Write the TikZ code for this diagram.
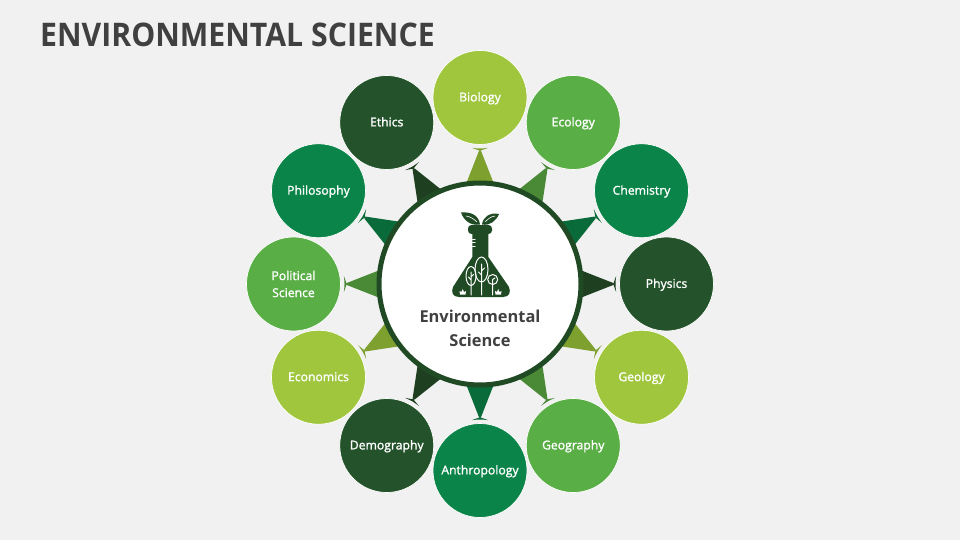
\documentclass[tikz,border=0pt]{standalone}
\usepackage{fontspec}
\setmainfont{Open Sans}
\usetikzlibrary{calc}
\pgfdeclarelayer{back}
\pgfdeclarelayer{wedge}
\pgfsetlayers{back,wedge,main}
\definecolor{bg}{HTML}{F1F1F1}
\definecolor{ink}{HTML}{404040}
\definecolor{ringc}{HTML}{1F4A24}
\definecolor{lime}{HTML}{A0C63E}
\definecolor{leaf}{HTML}{5AAE46}
\definecolor{emer}{HTML}{0B8449}
\definecolor{forest}{HTML}{24532B}
\definecolor{limeD}{HTML}{7EA02F}
\definecolor{leafD}{HTML}{4A8A37}
\definecolor{emerD}{HTML}{0A6B3A}
\definecolor{forestD}{HTML}{1F4020}
\tikzset{
  sat/.style={circle,minimum size=94pt,inner sep=0pt,outer sep=0pt,draw=white,line width=.7pt,text=white,align=center,font=\fontsize{12.2}{17}\selectfont\addfontfeature{FakeBold=1.4}},
  satone/.style={sat,text height=9.3pt,text depth=1.5pt},
  hubc/.style={circle,minimum size=202pt,inner sep=0pt,fill=white,draw=ringc,line width=5pt},
  titletext/.style={text=ink,font=\fontsize{32.5}{36}\selectfont\bfseries\addfontfeature{FakeStretch=0.93},anchor=west,inner sep=0pt},
  hubtext/.style={text=ink,font=\fontsize{16.4}{24}\selectfont\bfseries,align=center,inner sep=0pt},
  flaskline/.style={draw=white,line width=1pt,line cap=round},
  flask/.style={fill=ringc}
}
\begin{document}
\begin{tikzpicture}[x=1pt,y=-1pt]
\useasboundingbox (0,0) rectangle (960,540);
\begin{pgfonlayer}{back}
\fill[bg] (0,0) rectangle (960,540);
\end{pgfonlayer}
\node[titletext] (title) at (40,34.5) {ENVIRONMENTAL SCIENCE};
\coordinate (hubpt) at (480,284);
\foreach \i/\a/\t/\f in {
 1/-90/Biology/lime,
 2/-60/Ecology/leaf,
 3/-30/Chemistry/emer,
 4/0/Physics/forest,
 5/30/Geology/lime,
 6/60/Geography/leaf,
 7/90/Anthropology/emer,
 8/120/Demography/forest,
 9/150/Economics/lime,
 11/-150/Philosophy/emer,
 12/-120/Ethics/forest}{
  \node[satone,fill=\f] (s\i) at ($(hubpt)+(\a:186.5)$) {\t};
}
\node[sat,fill=leaf] (s10) at ($(hubpt)+(180:186.5)$) {Political\\Science};
\node[hubc] (hub) at (hubpt) {};
\begin{pgfonlayer}{wedge}
\foreach \i/\d in {1/limeD,2/leafD,3/emerD,4/forestD,5/limeD,6/leafD,7/emerD,8/forestD,9/limeD,10/leafD,11/emerD,12/forestD}{
  \fill[\d]
    ($(hub.center)!.533!8.5:(s\i.center)$) --
    ($(hub.center)!.712!0.5:(s\i.center)$) --
    ($(s\i.center)!.2735!9:(hub.center)$) .. controls ($(s\i.center)!.2735!5:(hub.center)$) and ($(s\i.center)!.2735!2:(hub.center)$) .. ($(s\i.center)!.2735!0:(hub.center)$)
    .. controls ($(s\i.center)!.2735!-2:(hub.center)$) and ($(s\i.center)!.2735!-5:(hub.center)$) .. ($(s\i.center)!.2735!-9:(hub.center)$) --
    ($(hub.center)!.712!-0.5:(s\i.center)$) --
    ($(hub.center)!.533!-8.5:(s\i.center)$) -- cycle;
}
\end{pgfonlayer}
\node[hubtext] (hublabel) at (480,328.3) {Environmental\\Science};
% flask
\fill[flask] (472.3,234) -- (472.3,257) -- (453,287) .. controls (451,292) and (452.5,297) .. (459,297) -- (503,297) .. controls (509.5,297) and (511,292) .. (509,287) -- (488.3,257) -- (488.3,234) -- cycle;
\fill[flask,rounded corners=3.5pt] (468,225) rectangle (492,234);
\fill[flask] (480,224.5) .. controls (479,216) and (472,211.5) .. (461,212.5) .. controls (464,221) and (471,226) .. (480,224.5) -- cycle;
\fill[flask] (482,224.5) .. controls (483,217) and (490,212) .. (499,214) .. controls (496,221) and (490,226) .. (482,224.5) -- cycle;
\draw[draw=white,line width=.6pt] (466,216) .. controls (470,216.5) and (474,219) .. (477,222);
\draw[draw=white,line width=.6pt] (495,216) .. controls (491,216.5) and (488,219) .. (485,222);
\draw[flaskline] (472.5,239) -- (475,239) (472.5,242.5) -- (475,242.5) (472.5,246) -- (475,246);
\draw[flaskline] (471,276) ellipse [x radius=5,y radius=9.5];
\draw[flaskline] (481.5,269.5) ellipse [x radius=6.5,y radius=12.5];
\draw[flaskline] (492.7,279.5) circle [radius=5];
\draw[flaskline] (471,272) -- (471,295) (471,280) -- (468.5,277) (471,277) -- (473.5,274.5);
\draw[flaskline] (481.5,264) -- (481.5,295) (481.5,275) -- (478.5,272) (481.5,271) -- (484.5,268);
\draw[flaskline] (492.7,279.5) -- (492.7,295) (492.7,279.5) -- (495,278);
\fill[white] (460,294.5) -- (459.5,291) -- (461.5,292) -- (462.7,289) -- (464,292) -- (466,291) -- (465.5,294.5) -- cycle;
\fill[white] (495.5,294.5) -- (495,291) -- (497,292) -- (498.2,289) -- (499.5,292) -- (501.5,291) -- (501,294.5) -- cycle;
\end{tikzpicture}
\end{document}
